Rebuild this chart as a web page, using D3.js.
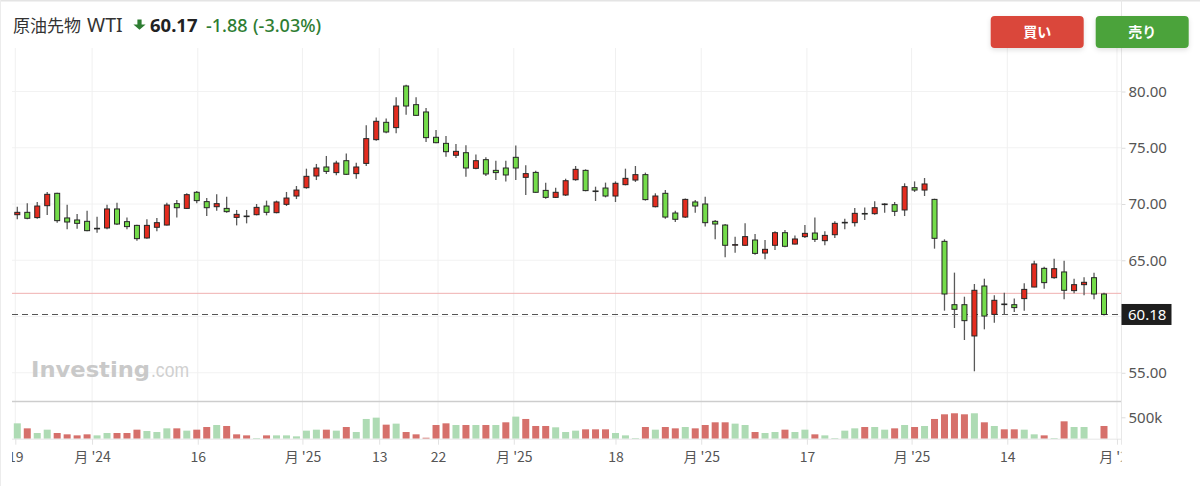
<!DOCTYPE html>
<html>
<head>
<meta charset="utf-8">
<script src="https://cdn.jsdelivr.net/npm/d3@7"></script>
<style>
  body { margin: 0; background: #fff; }
  svg { display: block; }
</style>
</head>
<body>
<div id="chart"></div>
<script>
// weekly candles (red = up, green = down)
const opens  = [69.05,69.26,68.79,69.85,70.95,68.76,68.58,68.46,67.80,67.87,
                69.56,68.43,68.10,66.98,67.93,68.13,70.03,69.61,71.04,70.21,
                69.76,69.61,68.81,68.93,69.05,69.82,69.23,69.97,70.71,71.45,
                72.49,73.29,72.79,73.85,72.70,73.61,75.72,77.26,76.79,80.49,
                78.83,78.18,75.93,75.39,74.33,74.56,73.17,73.94,72.99,73.20,
                74.15,72.37,72.81,71.21,70.59,70.80,72.16,72.99,71.16,71.42,
                70.71,71.72,72.13,72.61,69.76,70.95,69.20,68.84,70.18,70.00,
                68.46,68.13,66.36,66.33,66.80,65.64,66.33,67.45,66.44,67.10,
                67.42,66.74,67.27,68.34,68.34,69.16,69.14,69.97,69.94,69.47,
                71.45,71.24,70.41,66.68,61.05,61.05,58.27,62.71,60.19,61.11,
                61.05,61.59,62.62,64.28,63.45,63.96,62.30,62.83,63.45,62.00];
const highs  = [69.76,70.06,70.18,71.07,71.00,69.94,69.11,69.41,68.87,69.94,
                70.12,68.79,68.16,68.64,68.76,70.12,70.36,70.95,71.16,70.53,
                70.86,70.65,69.47,69.47,70.00,70.30,70.30,71.07,71.60,73.14,
                73.56,74.27,73.85,74.50,73.67,76.99,77.70,77.59,79.48,80.61,
                79.48,78.53,76.58,76.04,75.33,75.22,74.39,74.15,73.85,73.85,
                75.21,73.44,72.96,71.90,71.45,72.25,73.38,73.08,71.54,71.90,
                72.01,73.14,73.38,72.79,70.95,71.24,69.41,70.50,70.36,70.65,
                68.58,68.22,67.10,68.28,67.33,66.80,67.57,67.69,67.21,68.13,
                68.79,67.57,68.46,68.70,69.64,69.70,70.24,70.06,70.18,71.84,
                72.01,72.31,70.47,66.86,63.90,61.76,62.89,63.36,61.88,62.12,
                61.59,62.95,64.96,64.43,65.14,64.96,63.36,63.48,63.90,62.12];
const lows   = [68.64,68.64,68.70,69.02,68.34,67.75,67.81,67.57,67.45,67.75,
                68.13,67.75,66.74,66.92,67.57,68.10,68.81,69.56,70.06,68.93,
                69.41,69.23,68.10,68.28,68.99,68.99,69.17,69.82,70.44,71.36,
                72.13,72.67,72.55,72.58,72.25,73.38,75.63,76.28,76.28,77.94,
                77.82,75.51,75.39,74.21,74.09,72.43,73.08,72.49,72.13,72.01,
                72.13,70.80,71.01,70.47,70.53,70.71,72.07,71.13,70.27,70.59,
                70.18,71.66,71.96,70.30,69.70,68.70,68.40,68.76,69.23,67.99,
                66.86,65.26,65.67,66.27,65.50,65.08,65.91,66.15,66.39,66.98,
                66.62,66.33,66.98,67.75,67.99,68.58,69.05,69.23,68.93,68.93,
                71.07,70.71,66.03,60.52,58.98,57.91,55.13,58.86,59.45,60.16,
                60.40,60.52,62.59,62.47,63.36,61.53,62.06,61.88,61.53,60.10];
const closes = [69.26,68.73,69.82,70.86,68.52,68.40,68.28,67.63,67.84,69.56,
                68.22,67.99,66.92,68.10,68.34,69.91,69.67,70.83,70.30,69.67,
                70.03,69.32,69.08,68.90,69.70,69.26,70.18,70.53,71.24,72.46,
                73.20,72.90,73.64,72.64,73.29,75.81,77.35,76.40,78.71,78.71,
                77.88,75.90,75.45,74.65,74.68,73.20,73.85,72.67,72.79,72.58,
                73.20,72.70,71.04,70.59,71.04,72.07,73.08,71.19,71.13,70.71,
                71.84,72.28,72.61,70.39,70.71,68.84,68.64,70.41,69.82,68.34,
                68.22,66.33,66.39,67.10,65.61,65.97,67.45,66.24,66.89,67.39,
                66.86,67.21,68.28,68.37,69.17,69.12,69.67,70.00,69.35,71.54,
                71.24,71.78,66.95,62.00,60.64,59.63,62.33,60.04,61.44,61.08,
                60.79,62.41,64.67,63.01,64.25,62.33,62.83,63.04,62.00,60.18];

// volume (contracts) and bar colour as drawn (1 = green, 0 = red, null = no bar)
const volumes = [359,242,133,211,133,102,78,102,78,133,
                 133,133,211,180,156,242,242,188,211,273,
                 320,297,102,78,16,78,78,78,55,188,
                 211,211,188,273,156,461,492,328,352,156,
                 102,23,320,359,320,320,320,320,320,383,
                 516,461,297,297,266,156,188,219,219,219,
                 133,78,16,273,211,273,242,273,242,320,
                 383,383,352,320,156,133,156,211,156,211,
                 102,78,16,188,242,273,273,211,242,320,
                 273,297,461,570,594,570,594,383,297,219,
                 219,211,102,78,16,406,273,273,0,297].map(v => v * 1000);
const volUp = [1,0,1,1,0,0,0,0,1,1, 0,0,0,1,1,1,0,1,0,0,
               1,0,0,0,1,0,1,1,1,1, 1,0,1,0,1,1,1,0,1,0,
               0,0,0,0,1,0,1,0,1,0, 1,0,0,0,1,1,1,0,0,0,
               1,1,1,0,1,0,0,1,0,0, 0,0,1,1,0,1,1,0,1,1,
               0,1,1,1,1,0,1,1,0,1, 0,1,0,0,0,0,1,0,1,0,
               0,1,1,0,1,0,1,1,null,0];

// axes
const yTicks = [55, 60, 65, 70, 75, 80];
const xTickPos = [-0.2, 7.5, 18.1, 28.6, 36.3, 42.2, 49.8, 60, 68.6, 79.2, 89.7, 99.3, 110.3];
const xTickLabels = ["19", "月 '24", "16", "月 '25", "13", "22", "月 '25", "18", "月 '25", "17", "月 '25", "14", "月 '25"];
const prevClose = 62.06;
const lastPrice = 60.18;

const width = 1200, height = 486;
const plot = { left: 12, right: 1121.5, top: 48, bottom: 401.5 };
const volBox = { top: 402, bottom: 438.7 };

const svg = d3.select("#chart")
  .append("svg")
  .attr("width", width)
  .attr("height", height);

const defs = svg.append("defs");
defs.append("clipPath").attr("id", "plotClip")
  .append("rect")
  .attr("x", plot.left).attr("y", 0)
  .attr("width", plot.right - plot.left).attr("height", height);
const shadow = defs.append("filter").attr("id", "btnShadow")
  .attr("x", "-20%").attr("y", "-30%").attr("width", "140%").attr("height", "170%");
shadow.append("feDropShadow")
  .attr("dx", 0).attr("dy", 2).attr("stdDeviation", 2.5)
  .attr("flood-color", "#000").attr("flood-opacity", 0.12);

// frame edges
svg.append("line").attr("x1", 0).attr("x2", width).attr("y1", 0.8).attr("y2", 0.8)
  .attr("stroke", "#e4e4e4").attr("stroke-width", 1.6);
svg.append("line").attr("x1", 0.5).attr("x2", 0.5).attr("y1", 0).attr("y2", height)
  .attr("stroke", "#ececec");

// Scales
const x = d3.scaleLinear().domain([0, 109]).range([17.3, 1104]);
const y = d3.scaleLinear().domain([55, 80]).range([372.75, 91.5]);
const yv = d3.scaleLinear().domain([0, 500000]).range([volBox.bottom, 417.3]);

// Grid
const grid = svg.append("g");
grid.selectAll(".hgrid")
  .data(yTicks)
  .enter().append("line")
  .attr("x1", plot.left).attr("x2", plot.right)
  .attr("y1", d => y(d)).attr("y2", d => y(d))
  .attr("stroke", "#f2f2f2");
grid.selectAll(".vgrid")
  .data(xTickPos.filter(d => x(d) < plot.right))
  .enter().append("line")
  .attr("x1", d => x(d)).attr("x2", d => x(d))
  .attr("y1", plot.top).attr("y2", volBox.bottom)
  .attr("stroke", "#f0f0f0");

// Watermark
const logo = svg.append("g");
logo.append("text")
  .attr("x", 31).attr("y", 377)
  .attr("font-family", "DejaVu Sans, sans-serif")
  .attr("font-weight", 700).attr("font-size", 21.5)
  .attr("textLength", 119).attr("lengthAdjust", "spacingAndGlyphs")
  .attr("fill", "#c9c9c9")
  .text("Investing");
logo.append("text")
  .attr("x", 151).attr("y", 377)
  .attr("font-family", "Liberation Sans, Arial, sans-serif")
  .attr("font-size", 20)
  .attr("textLength", 38).attr("lengthAdjust", "spacingAndGlyphs")
  .attr("fill", "#d0d0d0")
  .text(".com");

// Reference lines
svg.append("line")
  .attr("x1", plot.left).attr("x2", plot.right)
  .attr("y1", y(prevClose)).attr("y2", y(prevClose))
  .attr("stroke", "#f0b0b0").attr("stroke-width", 1);
svg.append("line")
  .attr("x1", plot.left).attr("x2", plot.right)
  .attr("y1", y(lastPrice)).attr("y2", y(lastPrice))
  .attr("stroke", "#555").attr("stroke-width", 1.2)
  .attr("stroke-dasharray", "6,4");

// Candles
const candles = opens.map((o, i) => ({ i, o, h: highs[i], l: lows[i], c: closes[i] }));
const cg = svg.append("g").attr("clip-path", "url(#plotClip)");
cg.selectAll(".wick")
  .data(candles)
  .enter().append("line")
  .attr("class", "wick")
  .attr("x1", d => x(d.i)).attr("x2", d => x(d.i))
  .attr("y1", d => y(d.h)).attr("y2", d => y(d.l))
  .attr("stroke", "#5a5a5a").attr("stroke-width", 1.3);
cg.selectAll(".body")
  .data(candles)
  .enter().append("rect")
  .attr("class", "body")
  .attr("x", d => x(d.i) - 2.5)
  .attr("width", 5)
  .attr("y", d => y(Math.max(d.o, d.c)))
  .attr("height", d => Math.max(0.6, Math.abs(y(d.o) - y(d.c))))
  .attr("fill", d => d.c >= d.o ? "#e42c1f" : "#74dc4a")
  .attr("stroke", "#262626").attr("stroke-width", 1);

// Panel separator + volume
svg.append("line")
  .attr("x1", plot.left).attr("x2", plot.right)
  .attr("y1", plot.bottom).attr("y2", plot.bottom)
  .attr("stroke", "#cdcdcd").attr("stroke-width", 1.5);

svg.append("g").selectAll(".vol")
  .data(volumes.map((v, i) => ({ i, v, up: volUp[i] })).filter(d => d.up !== null && d.v > 0))
  .enter().append("rect")
  .attr("x", d => x(d.i) - 3.5)
  .attr("width", 7)
  .attr("y", d => yv(d.v))
  .attr("height", d => yv(0) - yv(d.v))
  .attr("fill", d => d.up ? "#aedbb4" : "#d6706b");

svg.append("line")
  .attr("x1", plot.left).attr("x2", plot.right)
  .attr("y1", volBox.bottom + 0.5).attr("y2", volBox.bottom + 0.5)
  .attr("stroke", "#e6e6e6");

// Right axis (price)
const yAxis = svg.append("g")
  .attr("transform", `translate(${plot.right},0)`)
  .call(d3.axisRight(y).tickValues(yTicks).tickFormat(d3.format(".2f")).tickSize(4).tickPadding(3));
yAxis.select(".domain").remove();
yAxis.selectAll("line").attr("stroke", "#dcdcdc");
yAxis.selectAll("text")
  .attr("fill", "#555")
  .attr("font-size", 15)
  .attr("font-family", "Noto Sans, sans-serif");

svg.append("line")
  .attr("x1", plot.right).attr("x2", plot.right)
  .attr("y1", 0).attr("y2", volBox.bottom + 6)
  .attr("stroke", "#e8e8e8");

// Volume axis
const vAxis = svg.append("g")
  .attr("transform", `translate(${plot.right},0)`)
  .call(d3.axisRight(yv).tickValues([500000]).tickFormat(d => d3.format("~s")(d)).tickSize(4).tickPadding(3));
vAxis.select(".domain").remove();
vAxis.selectAll("line").attr("stroke", "#dcdcdc");
vAxis.selectAll("text")
  .attr("fill", "#555")
  .attr("font-size", 15)
  .attr("font-family", "Noto Sans, sans-serif");

// Last price tag
const tag = svg.append("g").attr("transform", `translate(${plot.right},${y(lastPrice)})`);
tag.append("rect")
  .attr("x", 0).attr("y", -10.5)
  .attr("width", 50).attr("height", 21)
  .attr("fill", "#1e1e1e");
tag.append("text")
  .attr("x", 6.5).attr("dy", "0.36em")
  .attr("fill", "#fff")
  .attr("font-size", 15)
  .attr("font-family", "Noto Sans, sans-serif")
  .text(d3.format(".2f")(lastPrice));

// Bottom axis (time)
const xAxis = svg.append("g")
  .attr("transform", `translate(0,${volBox.bottom})`)
  .attr("clip-path", "url(#plotClip)")
  .call(d3.axisBottom(x).tickValues(xTickPos).tickFormat((d, i) => xTickLabels[i]).tickSize(6).tickPadding(7));
xAxis.select(".domain").remove();
xAxis.selectAll("line").attr("stroke", "#e2e2e2");
xAxis.selectAll("text")
  .attr("fill", "#555")
  .attr("font-size", 14)
  .attr("font-family", "Noto Sans CJK JP, sans-serif");

// Header
const header = svg.append("g").attr("font-family", "Noto Sans, Noto Sans CJK JP, sans-serif");
header.append("text")
  .attr("x", 13).attr("y", 32)
  .attr("font-family", "Noto Sans CJK JP, sans-serif")
  .attr("font-size", 17)
  .attr("fill", "#333")
  .text("原油先物");
header.append("text")
  .attr("x", 87).attr("y", 32)
  .attr("font-size", 19.5)
  .attr("fill", "#333")
  .text("WTI");
header.append("path")
  .attr("d", "M137.4,19.5 h4.2 v5 h4 l-6.1,5.2 l-6.1,-5.2 h4 z")
  .attr("fill", "#2e7d32");
header.append("text")
  .attr("x", 150).attr("y", 32)
  .attr("font-size", 18.5).attr("font-weight", 700)
  .attr("fill", "#222")
  .text("60.17");
header.append("text")
  .attr("x", 206).attr("y", 32)
  .attr("font-size", 18).attr("font-weight", 500)
  .attr("fill", "#2e7d32")
  .text("-1.88");
header.append("text")
  .attr("x", 253).attr("y", 32)
  .attr("font-size", 18).attr("font-weight", 500)
  .attr("fill", "#2e7d32")
  .text("(-3.03%)");

// Buy / sell buttons
const buttons = [
  { label: "買い", x: 990.7, color: "#da473a" },
  { label: "売り", x: 1095.7, color: "#4ba33a" }
];
const btn = svg.selectAll(".btn")
  .data(buttons)
  .enter().append("g")
  .attr("transform", d => `translate(${d.x},16)`);
btn.append("rect")
  .attr("width", 93).attr("height", 32).attr("rx", 4)
  .attr("fill", d => d.color)
  .attr("filter", "url(#btnShadow)");
btn.append("text")
  .attr("x", 46.5).attr("y", 16).attr("dy", "0.36em")
  .attr("text-anchor", "middle")
  .attr("fill", "#fff")
  .attr("font-size", 14).attr("font-weight", 700)
  .attr("font-family", "Noto Sans CJK JP, sans-serif")
  .text(d => d.label);
</script>
</body>
</html>
